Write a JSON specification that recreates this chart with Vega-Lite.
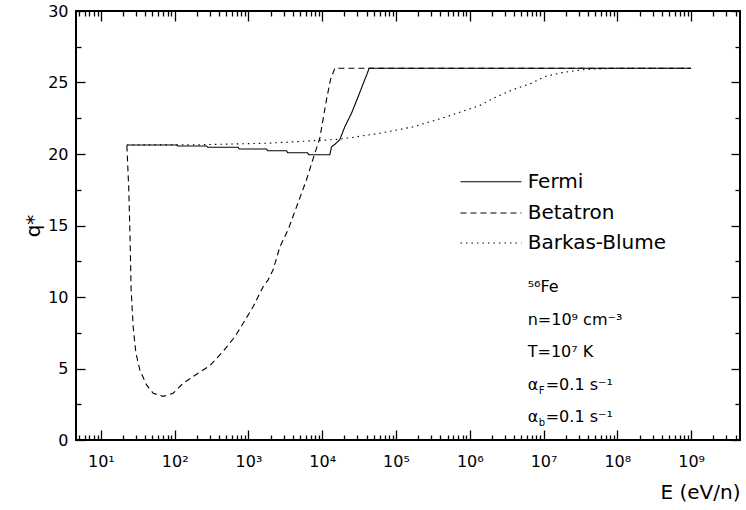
{
  "$schema": "https://vega.github.io/schema/vega-lite/v6.json",
  "width": 664,
  "height": 429,
  "autosize": {"type": "none"},
  "padding": {"left": 76, "top": 11, "right": 6, "bottom": 70},
  "background": "white",
  "config": {
    "view": {"stroke": "black", "strokeWidth": 2},
    "font": "DejaVu Sans",
    "axis": {"domain": false, "grid": false, "tickColor": "black", "tickWidth": 1.3, "labelColor": "black", "titleColor": "black", "labelFont": "DejaVu Sans", "titleFont": "DejaVu Sans", "titleFontWeight": "normal", "labelFontSize": 16}
  },
  "datasets": {
    "curves": [
      {"series": "Fermi", "E": 22.5, "q": 20.63},
      {"series": "Fermi", "E": 106, "q": 20.63},
      {"series": "Fermi", "E": 110, "q": 20.56},
      {"series": "Fermi", "E": 270, "q": 20.56},
      {"series": "Fermi", "E": 280, "q": 20.47},
      {"series": "Fermi", "E": 725, "q": 20.47},
      {"series": "Fermi", "E": 750, "q": 20.35},
      {"series": "Fermi", "E": 1758, "q": 20.35},
      {"series": "Fermi", "E": 1820, "q": 20.23},
      {"series": "Fermi", "E": 3281, "q": 20.23},
      {"series": "Fermi", "E": 3400, "q": 20.09},
      {"series": "Fermi", "E": 6300, "q": 20.09},
      {"series": "Fermi", "E": 6600, "q": 19.95},
      {"series": "Fermi", "E": 12680, "q": 19.95},
      {"series": "Fermi", "E": 13370, "q": 20.5},
      {"series": "Fermi", "E": 15000, "q": 20.7},
      {"series": "Fermi", "E": 17300, "q": 21.0},
      {"series": "Fermi", "E": 20230, "q": 21.9},
      {"series": "Fermi", "E": 24950, "q": 22.85},
      {"series": "Fermi", "E": 30650, "q": 24.0},
      {"series": "Fermi", "E": 35800, "q": 24.9},
      {"series": "Fermi", "E": 40570, "q": 25.6},
      {"series": "Fermi", "E": 43220, "q": 26.0},
      {"series": "Fermi", "E": 1000000000, "q": 26.0},
      {"series": "Betatron", "E": 22.5, "q": 20.6},
      {"series": "Betatron", "E": 23.9, "q": 17.5},
      {"series": "Betatron", "E": 24.9, "q": 14.0},
      {"series": "Betatron", "E": 25.7, "q": 10.5},
      {"series": "Betatron", "E": 27.4, "q": 7.9},
      {"series": "Betatron", "E": 29.8, "q": 6.1},
      {"series": "Betatron", "E": 33.7, "q": 4.9},
      {"series": "Betatron", "E": 41.6, "q": 3.85},
      {"series": "Betatron", "E": 51.1, "q": 3.27},
      {"series": "Betatron", "E": 69.8, "q": 3.05},
      {"series": "Betatron", "E": 95.4, "q": 3.27},
      {"series": "Betatron", "E": 130, "q": 3.96},
      {"series": "Betatron", "E": 198, "q": 4.6},
      {"series": "Betatron", "E": 300, "q": 5.2},
      {"series": "Betatron", "E": 454, "q": 6.2},
      {"series": "Betatron", "E": 654, "q": 7.22},
      {"series": "Betatron", "E": 848, "q": 8.16},
      {"series": "Betatron", "E": 1158, "q": 9.32},
      {"series": "Betatron", "E": 1582, "q": 10.72},
      {"series": "Betatron", "E": 1849, "q": 11.2},
      {"series": "Betatron", "E": 2161, "q": 11.9},
      {"series": "Betatron", "E": 2663, "q": 13.5},
      {"series": "Betatron", "E": 3450, "q": 14.7},
      {"series": "Betatron", "E": 4484, "q": 16.3},
      {"series": "Betatron", "E": 6126, "q": 18.2},
      {"series": "Betatron", "E": 7943, "q": 20.05},
      {"series": "Betatron", "E": 9270, "q": 21.1},
      {"series": "Betatron", "E": 11430, "q": 23.8},
      {"series": "Betatron", "E": 12950, "q": 25.2},
      {"series": "Betatron", "E": 14820, "q": 26.0},
      {"series": "Betatron", "E": 1000000000, "q": 26.0},
      {"series": "Barkas-Blume", "E": 22.5, "q": 20.63},
      {"series": "Barkas-Blume", "E": 219, "q": 20.65},
      {"series": "Barkas-Blume", "E": 1758, "q": 20.75},
      {"series": "Barkas-Blume", "E": 17300, "q": 21.03},
      {"series": "Barkas-Blume", "E": 60260, "q": 21.45},
      {"series": "Barkas-Blume", "E": 170600, "q": 21.9},
      {"series": "Barkas-Blume", "E": 483500, "q": 22.6},
      {"series": "Barkas-Blume", "E": 1368000, "q": 23.4},
      {"series": "Barkas-Blume", "E": 2300000, "q": 24.0},
      {"series": "Barkas-Blume", "E": 3860000, "q": 24.5},
      {"series": "Barkas-Blume", "E": 6500000, "q": 24.9},
      {"series": "Barkas-Blume", "E": 10940000, "q": 25.45},
      {"series": "Barkas-Blume", "E": 18400000, "q": 25.7},
      {"series": "Barkas-Blume", "E": 31000000, "q": 25.87},
      {"series": "Barkas-Blume", "E": 46900000, "q": 25.94},
      {"series": "Barkas-Blume", "E": 100000000, "q": 26.0},
      {"series": "Barkas-Blume", "E": 1000000000, "q": 26.0}
    ],
    "legend": [
      {"series": "Fermi", "x1": 748000, "x2": 5020000, "xt": 6100000, "y": 18.06},
      {"series": "Betatron", "x1": 748000, "x2": 5020000, "xt": 6100000, "y": 15.87},
      {"series": "Barkas-Blume", "x1": 748000, "x2": 5020000, "xt": 6100000, "y": 13.78}
    ],
    "notes": [
      {"text": "⁵⁶Fe", "x": 6100000, "y": 10.72},
      {"text": "n=10⁹ cm⁻³", "x": 6100000, "y": 8.39},
      {"text": "T=10⁷ K", "x": 6100000, "y": 6.17},
      {"text": "α", "x": 6100000, "y": 3.85},
      {"text": "α", "x": 6100000, "y": 1.63}
    ],
    "subs": [
      {"text": "F", "x": 6100000, "y": 3.85},
      {"text": "b", "x": 6100000, "y": 1.63}
    ],
    "rest": [
      {"text": "=0.1 s⁻¹", "x": 6100000, "y": 3.85},
      {"text": "=0.1 s⁻¹", "x": 6100000, "y": 1.63}
    ]
  },
  "layer": [
    {
      "data": {"name": "curves"},
      "mark": {"type": "line", "color": "black", "strokeWidth": 1.1, "clip": true},
      "encoding": {
        "x": {
          "field": "E", "type": "quantitative",
          "scale": {"type": "log", "domain": [4.6, 4600000000], "nice": false},
          "axis": {
            "orient": "bottom",
            "values": [5,6,7,8,9,10,20,30,40,50,60,70,80,90,100,200,300,400,500,600,700,800,900,1000,2000,3000,4000,5000,6000,7000,8000,9000,10000,20000,30000,40000,50000,60000,70000,80000,90000,100000,200000,300000,400000,500000,600000,700000,800000,900000,1000000,2000000,3000000,4000000,5000000,6000000,7000000,8000000,9000000,10000000,20000000,30000000,40000000,50000000,60000000,70000000,80000000,90000000,100000000,200000000,300000000,400000000,500000000,600000000,700000000,800000000,900000000,1000000000,2000000000,3000000000,4000000000],
            "tickSize": {"condition": {"test": "abs(log(datum.value)/LN10 - round(log(datum.value)/LN10)) < 0.001", "value": -10}, "value": -5},
            "labelExpr": "abs(log(datum.value)/LN10 - round(log(datum.value)/LN10)) < 0.001 ? '10' + ['⁰','¹','²','³','⁴','⁵','⁶','⁷','⁸','⁹'][round(log(datum.value)/LN10)] : ''",
            "labelPadding": 23,
            "labelFlush": false,
            "labelOverlap": false,
            "title": "E (eV/n)",
            "titleFontSize": 20,
            "titleAnchor": "end",
            "titlePadding": 8
          }
        },
        "y": {
          "field": "q", "type": "quantitative",
          "scale": {"domain": [0, 30], "nice": false, "zero": false},
          "axis": {
            "orient": "left",
            "values": [0,2.5,5,7.5,10,12.5,15,17.5,20,22.5,25,27.5,30],
            "tickSize": {"condition": {"test": "datum.value % 5 === 0", "value": -9}, "value": -5},
            "labelExpr": "datum.value % 5 === 0 ? datum.label : ''",
            "labelPadding": 17,
            "labelFlush": false,
            "labelOverlap": false,
            "title": "q*",
            "titleFontSize": 20,
            "titlePadding": 4
          }
        },
        "strokeDash": {
          "field": "series", "type": "nominal",
          "scale": {"domain": ["Fermi", "Betatron", "Barkas-Blume"], "range": [[1, 0], [6, 4], [1.5, 4]]},
          "legend": null
        },
        "order": {"field": "E", "type": "quantitative"}
      }
    },
    {
      "data": {"name": "legend"},
      "mark": {"type": "rule", "color": "black", "strokeWidth": 1.1},
      "encoding": {
        "x": {"field": "x1", "type": "quantitative", "scale": {"type": "log", "domain": [4.6, 4600000000], "nice": false}, "axis": null},
        "x2": {"field": "x2"},
        "y": {"field": "y", "type": "quantitative", "scale": {"domain": [0, 30], "nice": false, "zero": false}, "axis": null},
        "strokeDash": {"field": "series", "type": "nominal", "legend": null}
      }
    },
    {
      "data": {"name": "legend"},
      "mark": {"type": "text", "align": "left", "baseline": "middle", "fontSize": 20, "font": "DejaVu Sans", "color": "black"},
      "encoding": {
        "x": {"field": "xt", "type": "quantitative", "scale": {"type": "log", "domain": [4.6, 4600000000], "nice": false}, "axis": null},
        "y": {"field": "y", "type": "quantitative", "scale": {"domain": [0, 30], "nice": false, "zero": false}, "axis": null},
        "text": {"field": "series"}
      }
    },
    {
      "data": {"name": "notes"},
      "mark": {"type": "text", "align": "left", "baseline": "middle", "fontSize": 16, "font": "DejaVu Sans", "color": "black"},
      "encoding": {
        "x": {"field": "x", "type": "quantitative", "scale": {"type": "log", "domain": [4.6, 4600000000], "nice": false}, "axis": null},
        "y": {"field": "y", "type": "quantitative", "scale": {"domain": [0, 30], "nice": false, "zero": false}, "axis": null},
        "text": {"field": "text"}
      }
    },
    {
      "data": {"name": "subs"},
      "mark": {"type": "text", "align": "left", "baseline": "middle", "fontSize": 10, "font": "DejaVu Sans", "color": "black", "dx": 11, "dy": 6},
      "encoding": {
        "x": {"field": "x", "type": "quantitative", "scale": {"type": "log", "domain": [4.6, 4600000000], "nice": false}, "axis": null},
        "y": {"field": "y", "type": "quantitative", "scale": {"domain": [0, 30], "nice": false, "zero": false}, "axis": null},
        "text": {"field": "text"}
      }
    },
    {
      "data": {"name": "rest"},
      "mark": {"type": "text", "align": "left", "baseline": "middle", "fontSize": 16, "font": "DejaVu Sans", "color": "black", "dx": 18},
      "encoding": {
        "x": {"field": "x", "type": "quantitative", "scale": {"type": "log", "domain": [4.6, 4600000000], "nice": false}, "axis": null},
        "y": {"field": "y", "type": "quantitative", "scale": {"domain": [0, 30], "nice": false, "zero": false}, "axis": null},
        "text": {"field": "text"}
      }
    },
    {
      "data": {"name": "legend"},
      "mark": {"type": "point", "opacity": 0},
      "encoding": {
        "x": {
          "field": "x1", "type": "quantitative",
          "scale": {"type": "log", "domain": [4.6, 4600000000], "nice": false},
          "axis": {
            "orient": "top",
            "values": [5,6,7,8,9,10,20,30,40,50,60,70,80,90,100,200,300,400,500,600,700,800,900,1000,2000,3000,4000,5000,6000,7000,8000,9000,10000,20000,30000,40000,50000,60000,70000,80000,90000,100000,200000,300000,400000,500000,600000,700000,800000,900000,1000000,2000000,3000000,4000000,5000000,6000000,7000000,8000000,9000000,10000000,20000000,30000000,40000000,50000000,60000000,70000000,80000000,90000000,100000000,200000000,300000000,400000000,500000000,600000000,700000000,800000000,900000000,1000000000,2000000000,3000000000,4000000000],
            "tickSize": {"condition": {"test": "abs(log(datum.value)/LN10 - round(log(datum.value)/LN10)) < 0.001", "value": -10}, "value": -5},
            "labels": false,
            "title": null
          }
        },
        "y": {
          "field": "y", "type": "quantitative",
          "scale": {"domain": [0, 30], "nice": false, "zero": false},
          "axis": {
            "orient": "right",
            "values": [0,2.5,5,7.5,10,12.5,15,17.5,20,22.5,25,27.5,30],
            "tickSize": {"condition": {"test": "datum.value % 5 === 0", "value": -9}, "value": -5},
            "labels": false,
            "title": null
          }
        }
      }
    }
  ],
  "resolve": {"axis": {"x": "independent", "y": "independent"}}
}
